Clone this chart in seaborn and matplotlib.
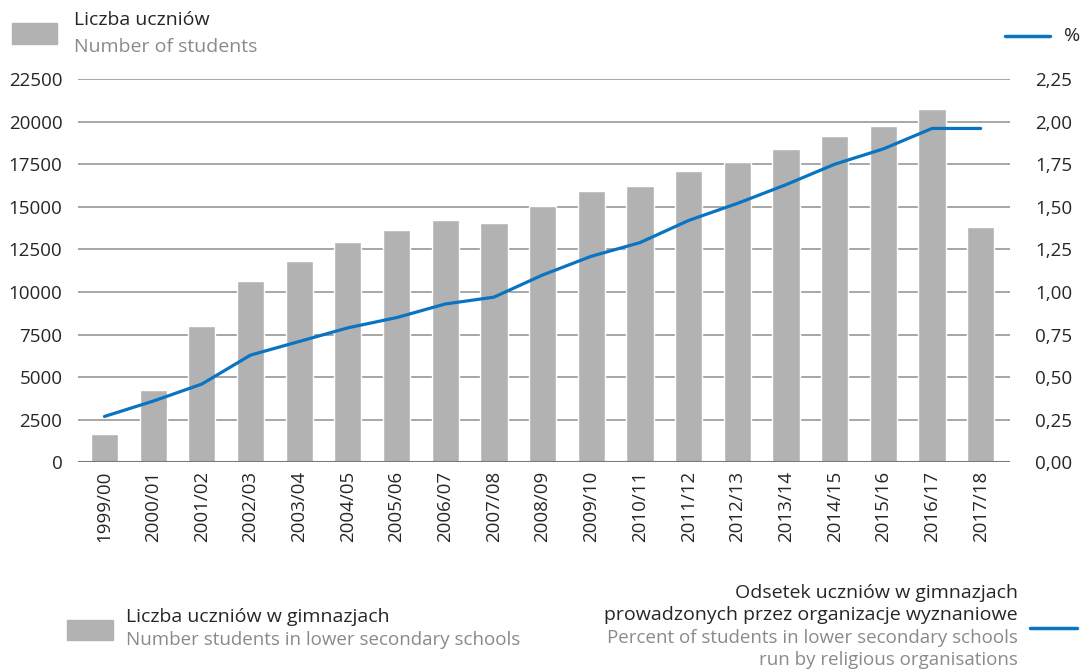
import matplotlib.pyplot as plt
import numpy as np
import pandas as pd
import seaborn as sns
from matplotlib.lines import Line2D
from matplotlib.patches import Rectangle
from matplotlib.ticker import FuncFormatter, MultipleLocator

years = [
    "1999/00", "2000/01", "2001/02", "2002/03", "2003/04", "2004/05",
    "2005/06", "2006/07", "2007/08", "2008/09", "2009/10", "2010/11",
    "2011/12", "2012/13", "2013/14", "2014/15", "2015/16", "2016/17",
    "2017/18",
]
students = [
    1650, 4270, 8000, 10650, 11830, 12950, 13630, 14220, 14040, 15060,
    15920, 16250, 17110, 17620, 18390, 19150, 19740, 20760, 13790,
]
percent = [
    0.27, 0.36, 0.46, 0.63, 0.71, 0.79, 0.85, 0.93, 0.97, 1.10,
    1.21, 1.29, 1.42, 1.52, 1.63, 1.75, 1.84, 1.96, 1.96,
]

df = pd.DataFrame({"year": years, "students": students, "percent": percent})
df["pos"] = np.arange(len(df))

BAR = "#b2b2b2"
BLUE = "#0a74c2"
GREY_TXT = "#8a8a8a"
GRID = "#a0a0a0"

sns.set_style("white")
plt.rcParams["font.family"] = ["Open Sans", "DejaVu Sans"]
plt.rcParams["font.size"] = 13

fig = plt.figure(figsize=(10.85, 6.72), dpi=100)
ax = fig.add_axes([0.0716, 0.3118, 0.8592, 0.5706])

sns.barplot(data=df, x="year", y="students", color=BAR, width=0.56,
            saturation=1, ax=ax, zorder=2)
ax.set_ylim(0, 22500)
ax.set_xlim(-0.55, 18.6)
ax.yaxis.set_major_locator(MultipleLocator(2500))
ax.grid(axis="y", color=GRID, linewidth=1.3, zorder=0)
ax.set_axisbelow(True)
ax.axhline(0, color="#7a7a7a", linewidth=1.5, zorder=3)
for s in ax.spines.values():
    s.set_visible(False)
ax.set_xlabel("")
ax.set_ylabel("")
ax.tick_params(axis="both", length=0, labelsize=13.5)
ax.tick_params(axis="y", pad=11)
ax.tick_params(axis="x", pad=6)
plt.setp(ax.get_xticklabels(), rotation=90)

ax2 = ax.twinx()
sns.lineplot(data=df, x="pos", y="percent", color=BLUE, linewidth=2.3, ax=ax2)
ax2.set_ylim(0, 2.25)
ax2.yaxis.set_major_locator(MultipleLocator(0.25))
ax2.yaxis.set_major_formatter(FuncFormatter(lambda v, p: f"{v:.2f}".replace(".", ",")))
for s in ax2.spines.values():
    s.set_visible(False)
ax2.set_ylabel("")
ax2.tick_params(axis="y", length=0, labelsize=13.5, pad=18)
ax2.set_xlim(-0.55, 18.6)

W, H = 1085, 672
FS = 14


def fx(x):
    return x / W


def fy(y):
    return 1 - y / H


# top legend
fig.add_artist(Rectangle((fx(12), fy(44)), fx(45), 21 / H, color=BAR,
                         transform=fig.transFigure))
fig.text(fx(74), fy(20), "Liczba uczniów", fontsize=FS, va="center")
fig.text(fx(74), fy(47), "Number of students", fontsize=FS, va="center",
         color=GREY_TXT)
fig.add_artist(Line2D([fx(1005), fx(1050)], [fy(36), fy(36)], color=BLUE,
                      linewidth=2.5, transform=fig.transFigure))
fig.text(fx(1064), fy(36), "%", fontsize=FS, va="center")

# bottom legend
fig.add_artist(Rectangle((fx(67), fy(640)), fx(46), 20 / H, color=BAR,
                         transform=fig.transFigure))
fig.text(fx(126), fy(617), "Liczba uczniów w gimnazjach", fontsize=FS,
         va="center")
fig.text(fx(126), fy(640), "Number students in lower secondary schools",
         fontsize=13.5, va="center", color=GREY_TXT)
fig.text(fx(1018), fy(593), "Odsetek uczniów w gimnazjach", fontsize=FS,
         va="center", ha="right")
fig.text(fx(1018), fy(615), "prowadzonych przez organizacje wyznaniowe",
         fontsize=FS, va="center", ha="right")
fig.text(fx(1018), fy(638), "Percent of students in lower secondary schools",
         fontsize=13.5, va="center", ha="right", color=GREY_TXT)
fig.text(fx(1018), fy(660), "run by religious organisations", fontsize=13.5,
         va="center", ha="right", color=GREY_TXT)
fig.add_artist(Line2D([fx(1030), fx(1077)], [fy(628), fy(628)], color=BLUE,
                      linewidth=2.5, transform=fig.transFigure))

fig.savefig("out.png", dpi=100)
